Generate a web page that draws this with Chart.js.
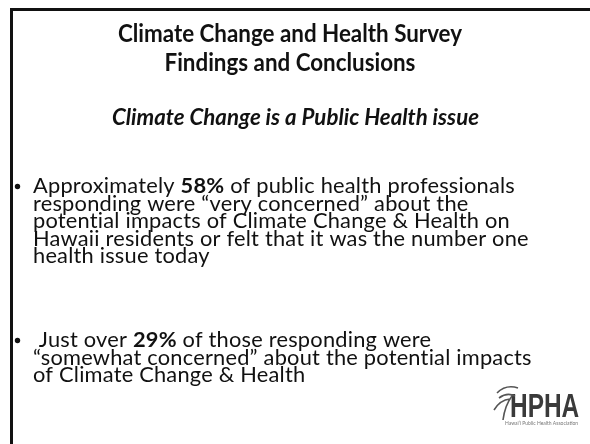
<!DOCTYPE html>
<html>
<head>
<meta charset="utf-8">
<script src="https://cdn.jsdelivr.net/npm/chart.js@4.4.0/dist/chart.umd.min.js"></script>
<style>
  html, body { margin: 0; padding: 0; background: #fff; }
  #wrap { width: 590px; height: 444px; position: relative; }
</style>
</head>
<body>
<div id="wrap"><canvas id="slide"></canvas></div>
<script>
// slide text
var titleLines = ["Climate Change and Health Survey", "Findings and Conclusions"];
var subtitleText = "Climate Change is a Public Health issue";

// survey findings: lead words, bold percentage, rest of first line, following lines
var findingLead = ["Approximately ", " Just over "];
var findingValues = [58, 29];
var findingTail = [" of public health professionals", " of those responding were"];
var findingMore = [
  ["responding were \u201cvery concerned\u201d about the",
   "potential impacts of Climate Change & Health on",
   "Hawaii residents or felt that it was the number one",
   "health issue today"],
  ["\u201csomewhat concerned\u201d about the potential impacts",
   "of Climate Change & Health"]
];
var logoText = "HPHA";
var logoCaption = "Hawai\u2019i Public Health Association";

var FONT = "Lato, 'Open Sans', sans-serif";
var ink = "#111";

// draw first line of a finding (regular / bold % / regular), returns width
function firstLine(ctx, i, size, y, draw) {
  var x = 0;
  var pct = findingValues[i] + "%";
  ctx.font = size + "px " + FONT;
  if (draw) ctx.fillText(findingLead[i], x, y);
  x += ctx.measureText(findingLead[i]).width;
  ctx.font = "bold " + size + "px " + FONT;
  if (draw) ctx.fillText(pct, x, y);
  x += ctx.measureText(pct).width;
  ctx.font = size + "px " + FONT;
  if (draw) ctx.fillText(findingTail[i], x, y);
  x += ctx.measureText(findingTail[i]).width;
  return x;
}

var slidePlugin = {
  id: 'slide',
  afterDraw: function(chart) {
    var ctx = chart.ctx;
    ctx.save();

    // frame
    ctx.fillStyle = ink;
    ctx.fillRect(10, 8, 580, 3);
    ctx.fillRect(10, 8, 3, 436);

    // headings
    ctx.textAlign = 'center';
    ctx.textBaseline = 'alphabetic';
    ctx.save();
    ctx.translate(290, 0);
    ctx.scale(0.94, 1);
    ctx.font = "bold 23.8px " + FONT;
    ctx.fillText(titleLines[0], 0, 42);
    ctx.fillText(titleLines[1], 0, 71);
    ctx.restore();
    ctx.save();
    ctx.translate(295.5, 0);
    ctx.scale(0.94, 1);
    ctx.font = "italic bold 23.7px " + FONT;
    ctx.fillText(subtitleText, 0, 125);
    ctx.restore();

    // bullets: stretch so the first line spans x 33 .. 515 as in the slide
    ctx.textAlign = 'left';
    var starts = [193, 347];
    var lh = 17.6;
    var size = 20.5;
    ctx.letterSpacing = "0.2px";
    var sx = (515 - 33) / firstLine(ctx, 0, size, 0, false);
    for (var i = 0; i < findingValues.length; i++) {
      var y = starts[i];
      ctx.beginPath();
      ctx.arc(17.5, y - 6.5, 2.7, 0, Math.PI * 2);
      ctx.fill();
      ctx.save();
      ctx.translate(33, 0);
      ctx.scale(sx, 1);
      firstLine(ctx, i, size, y, true);
      ctx.font = size + "px " + FONT;
      for (var j = 0; j < findingMore[i].length; j++) {
        ctx.fillText(findingMore[i][j], 0, y + lh * (j + 1));
      }
      ctx.restore();
    }
    ctx.letterSpacing = "0px";

    // logo
    ctx.fillStyle = "#3a3a3a";
    ctx.save();
    ctx.translate(510, 417);
    ctx.scale(0.74, 1);
    ctx.font = "bold 33px 'Liberation Sans', Arial, sans-serif";
    ctx.fillText(logoText, 0, 0);
    ctx.restore();
    ctx.strokeStyle = "#555";
    ctx.lineWidth = 1.6;
    ctx.beginPath();
    ctx.moveTo(497, 393); ctx.quadraticCurveTo(506, 384, 518, 388);
    ctx.moveTo(499, 398); ctx.quadraticCurveTo(507, 392, 515, 396);
    ctx.moveTo(503, 420); ctx.quadraticCurveTo(505, 405, 512, 396);
    ctx.moveTo(494, 410); ctx.quadraticCurveTo(500, 400, 510, 399);
    ctx.stroke();
    ctx.fillStyle = "#777";
    ctx.font = "5px " + FONT;
    ctx.fillText(logoCaption, 505, 425);

    ctx.restore();
  }
};

new Chart(document.getElementById('slide').getContext('2d'), {
  type: 'bar',
  data: {
    labels: [],
    datasets: [{ data: [], backgroundColor: 'rgba(0,0,0,0)' }]
  },
  options: {
    responsive: true,
    maintainAspectRatio: false,
    animation: false,
    events: [],
    layout: { padding: 0 },
    plugins: {
      legend: { display: false },
      title: { display: false },
      tooltip: { enabled: false }
    },
    scales: {
      x: { display: false },
      y: { display: false }
    }
  },
  plugins: [slidePlugin]
});
</script>
</body>
</html>
